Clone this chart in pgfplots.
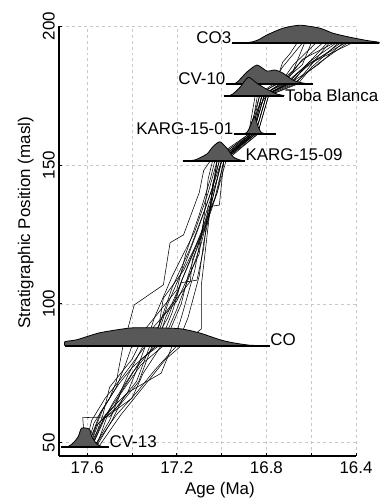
\documentclass[border=0pt]{standalone}
\usepackage{pgfplots}
\pgfplotsset{compat=1.18}
\usepackage{fontspec}
\setmainfont{Liberation Sans}
\definecolor{dens}{RGB}{88,88,88}
\definecolor{gridc}{RGB}{200,200,200}
\begin{document}
\begin{tikzpicture}
\begin{axis}[name=ax, scale only axis, width=297bp, height=430bp,
 x dir=reverse, xmin=16.4, xmax=17.726, ymin=45.2, ymax=200,
 axis x line*=bottom, axis y line*=left,
 axis line style={line width=1.1pt,-},
 xtick={16.4,16.6,16.8,17.0,17.2,17.4,17.6},
 xticklabels={16.4,,16.8,,17.2,,17.6},
 ytick={50,100,150,200}, yticklabels={50,100,150,200},
 tick align=inside, major tick length=3bp,
 tick style={black, line width=0.7pt},
 grid=major, grid style={gridc, dashed, line width=0.5pt},
 clip=false,
 ticklabel style={font=\fontsize{17}{20}\selectfont},
 yticklabel style={rotate=90, anchor=south, inner sep=4bp},
 xticklabel style={inner sep=5bp},
 xlabel={Age (Ma)}, ylabel={Stratigraphic Position (masl)},
 label style={font=\fontsize{17}{20}\selectfont},
 xlabel style={at={(axis description cs:0.542,-0.0884)}, anchor=base},
 ylabel style={at={(axis description cs:-0.0976,0.542)}, anchor=base},
]
% ---- age-depth model realisations ----
\addplot[black, line width=0.55pt] coordinates {(17.61,48.4)(17.62,59)(17.50,59.3)(17.42,68)(17.38,76)(17.34,84.9)(17.30,95)(17.22,110)(17.12,126)(17.06,140)(17.02,151.5)(16.87,161)(16.84,170)(16.80,175)(16.72,179.1)(16.62,186)(16.53,193.8)};
\addplot[black, line width=0.55pt] coordinates {(17.60,48.4)(17.57,57)(17.50,66)(17.47,72)(17.44,84.9)(17.42,90.6)(17.39,99.6)(17.26,106.8)(17.23,122)(17.17,124.8)(17.10,140)(17.08,148)(17.05,151.5)(16.88,161)(16.85,175)(16.75,179.1)(16.68,184)(16.63,193.8)};
\addplot[black, line width=0.55pt] coordinates {(17.58,48.4)(17.52,60)(17.42,68)(17.27,75)(17.22,84.9)(17.18,95)(17.12,112)(17.08,130)(17.02,145)(17.00,151.5)(16.86,161)(16.82,175)(16.70,179.1)(16.60,187)(16.45,193.8)};
\addplot[black, line width=0.55pt] coordinates {(17.59,48.4)(17.55,55)(17.48,65)(17.40,75)(17.30,84.9)(17.24,100)(17.16,115)(17.10,128)(17.04,142)(17.01,151.5)(16.85,161)(16.80,175)(16.68,179.1)(16.56,187)(16.44,193.8)};
\addplot[black, line width=0.55pt] coordinates {(17.57,48.4)(17.50,58)(17.45,68)(17.36,80)(17.28,84.9)(17.22,97)(17.18,108)(17.09,125)(17.03,138)(16.99,151.5)(16.86,161)(16.81,175)(16.74,179.1)(16.68,186)(16.58,193.8)};
\addplot[black, line width=0.55pt] coordinates {(17.60,48.4)(17.53,62)(17.47,70)(17.43,78)(17.40,84.9)(17.33,92)(17.20,105)(17.16,118)(17.10,132)(17.05,145)(17.03,151.5)(16.88,161)(16.83,175)(16.76,179.1)(16.727,187)(16.695,190)(16.664,193.8)};
\addplot[black, line width=0.55pt] coordinates {(17.56,48.4)(17.49,58)(17.44,66)(17.38,72)(17.32,84.9)(17.26,96)(17.14,108)(17.13,116)(17.07,128)(17.02,140)(16.98,151.5)(16.84,161)(16.79,175)(16.66,179.1)(16.60,185)(16.48,193.8)};
\addplot[black, line width=0.55pt] coordinates {(17.58,48.4)(17.52,59)(17.40,66)(17.35,75)(17.27,84.9)(17.20,98)(17.12,115)(17.09,122)(17.05,135)(17.02,151.5)(16.87,161)(16.83,175)(16.72,179.1)(16.64,188)(16.50,193.8)};
\addplot[black, line width=0.55pt] coordinates {(17.57,48.4)(17.47,60)(17.38,68)(17.30,76)(17.20,84.9)(17.15,95)(17.10,110)(17.08,122)(17.04,138)(17.00,151.5)(16.86,161)(16.81,175)(16.69,179.1)(16.62,186)(16.42,193.8)};
\addplot[black, line width=0.55pt] coordinates {(17.59,48.4)(17.56,56)(17.48,63)(17.42,74)(17.35,84.9)(17.28,92)(17.26,102)(17.17,112)(17.06,130)(17.04,142)(17.02,151.5)(16.86,161)(16.82,175)(16.73,179.1)(16.66,186)(16.55,193.8)};
\addplot[black, line width=0.55pt] coordinates {(17.58,48.4)(17.53,60)(17.50,70)(17.40,80)(17.37,84.9)(17.30,92)(17.20,101)(17.10,118)(17.08,130)(17.06,145)(17.04,151.5)(16.87,161)(16.84,175)(16.77,179.1)(16.73,185)(16.64,193.8)};
\addplot[black, line width=0.55pt] coordinates {(17.61,48.4)(17.58,58)(17.52,66)(17.44,74)(17.34,84.9)(17.28,92)(17.22,106)(17.14,120)(17.07,135)(17.00,151.5)(16.85,161)(16.80,175)(16.71,179.1)(16.66,183)(16.47,193.8)};
\addplot[black, line width=0.55pt] coordinates {(17.56,48.4)(17.50,62)(17.43,70)(17.36,78)(17.26,84.9)(17.18,100)(17.15,110)(17.11,120)(17.08,128)(17.02,140)(16.99,151.5)(16.84,161)(16.79,175)(16.67,179.1)(16.58,188)(16.52,193.8)};
\addplot[black, line width=0.55pt] coordinates {(17.55,48.4)(17.45,60)(17.35,70)(17.25,80)(17.18,84.9)(17.09,91)(17.09,107)(17.05,135)(17.04,143)(17.01,151.5)(16.86,161)(16.81,175)(16.70,179.1)(16.57,186)(16.46,193.8)};
\addplot[black, line width=0.55pt] coordinates {(17.59,48.4)(17.55,57)(17.45,64)(17.37,72)(17.31,84.9)(17.24,95)(17.18,107.6)(17.11,108.5)(17.08,120)(17.06,135)(17.01,135.5)(16.99,151.5)(16.85,161)(16.80,175)(16.71,179.1)(16.61,187)(16.49,193.8)};
\addplot[black, line width=0.55pt] coordinates {(17.60,48.4)(17.54,61)(17.46,71)(17.40,77)(17.29,84.9)(17.25,95)(17.20,104)(17.13,118)(17.09,126)(17.04,138)(17.00,151.5)(16.87,161)(16.82,175)(16.74,179.1)(16.64,186)(16.60,193.8)};
% ---- dated horizons: probability densities ----
% CV-13
\addplot[fill=dens, draw=black, line width=0.8pt, smooth, tension=0.4] coordinates {(17.717,48.4)(17.685,48.65)(17.663,49.84)(17.64,52.21)(17.625,55.23)(17.59,54.87)(17.58,52.21)(17.558,49.59)(17.536,48.65)(17.503,48.4)};
\addplot[black, line width=1.8pt] coordinates {(17.717,48.4)(17.503,48.4)};
% CO
\addplot[fill=dens, draw=black, line width=0.8pt, smooth, tension=0.4] coordinates {(17.70,84.9)(17.70,86.34)(17.646,87.06)(17.543,89.58)(17.409,91.27)(17.32,91.37)(17.186,91.02)(17.097,89.47)(17.008,87.06)(16.95,85.98)(16.874,85.08)(16.785,84.9)};
\addplot[black, line width=1.8pt] coordinates {(17.70,84.9)(16.785,84.9)};
% KARG-15-09
\addplot[fill=dens, draw=black, line width=0.8pt, smooth, tension=0.4] coordinates {(17.173,151.5)(17.12,151.75)(17.066,153.91)(17.039,156.54)(17.008,158.33)(16.976,155.96)(16.949,152.94)(16.918,151.75)(16.896,151.5)};
\addplot[black, line width=1.8pt] coordinates {(17.173,151.5)(16.896,151.5)};
% KARG-15-01
\addplot[fill=dens, draw=black, line width=0.8pt, smooth, tension=0.4] coordinates {(16.945,161)(16.918,161.05)(16.888,161.61)(16.873,163.77)(16.864,165.68)(16.854,167.33)(16.844,165.68)(16.837,163.77)(16.822,161.61)(16.793,161.05)(16.758,161)};
\addplot[black, line width=1.8pt] coordinates {(16.945,161)(16.758,161)};
% CV-10
\addplot[fill=dens, draw=black, line width=0.8pt, smooth, tension=0.4] coordinates {(16.98,179.1)(16.94,179.28)(16.918,180.79)(16.887,183.42)(16.842,185.93)(16.798,183.78)(16.762,184.14)(16.727,183.06)(16.682,180.54)(16.637,179.46)(16.592,179.1)};
\addplot[black, line width=1.8pt] coordinates {(16.98,179.1)(16.592,179.1)};
% Toba Blanca
\addplot[fill=dens, draw=black, line width=0.8pt, smooth, tension=0.4] coordinates {(16.99,174.9)(16.963,174.98)(16.95,175.51)(16.918,177.92)(16.881,181.52)(16.842,179.36)(16.798,177.2)(16.753,175.51)(16.72,174.95)};
\addplot[black, line width=1.8pt] coordinates {(16.99,174.9)(16.72,174.9)};
% CO3
\addplot[fill=dens, draw=black, line width=0.8pt, smooth, tension=0.4] coordinates {(16.954,193.8)(16.90,193.91)(16.86,194.34)(16.83,195.24)(16.80,196.68)(16.726,199.2)(16.65,200.27)(16.561,199.2)(16.503,197.4)(16.427,195.96)(16.351,194.77)(16.298,194.16)(16.298,193.8)};
\addplot[black, line width=1.8pt] coordinates {(16.954,193.8)(16.298,193.8)};
% ---- labels ----
\begin{scope}[every node/.style={font=\fontsize{17}{20}\selectfont, inner sep=0.5bp}]
\node[anchor=base east] at (axis cs:16.954,193.8) {CO3};
\node[anchor=base east] at (axis cs:16.98,179.1) {CV-10};
\node[anchor=west] at (axis cs:16.72,174.9) {Toba Blanca};
\node[anchor=base east] at (axis cs:16.945,161) {KARG-15-01};
\node[anchor=base west] at (axis cs:16.896,151.5) {KARG-15-09};
\node[anchor=base west] at (axis cs:16.785,84.9) {CO};
\node[anchor=base west] at (axis cs:17.503,48.4) {CV-13};
\end{scope}
\end{axis}
\pgfresetboundingbox
\path[use as bounding box] (ax.south west) ++(-59bp,-42bp) rectangle ++(384bp,498bp);
\end{tikzpicture}
\end{document}
